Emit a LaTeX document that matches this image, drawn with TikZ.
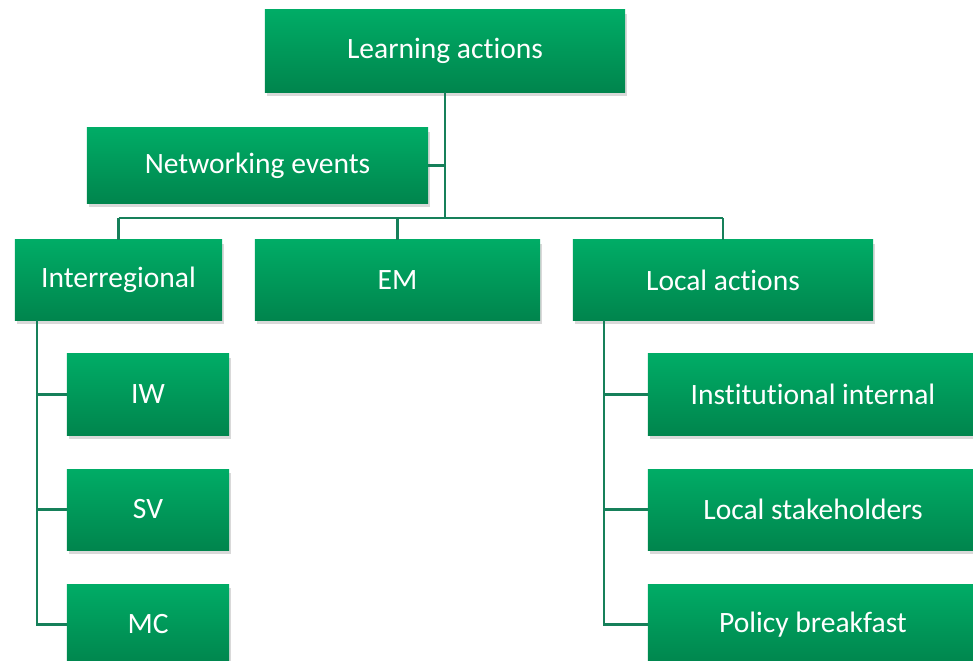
\documentclass[tikz,border=0pt]{standalone}
\usepackage{fontspec}
\setmainfont{Carlito}[Ligatures=NoCommon]
\usetikzlibrary{shadows}

\definecolor{boxtop}{HTML}{00AC66}
\definecolor{boxbottom}{HTML}{00854D}
\definecolor{linkgreen}{HTML}{16805A}

\begin{document}
\begin{tikzpicture}
    [x=0.025cm, y=-0.025cm,
     every node/.style={rectangle, inner sep=0pt, text=white,
       top color=boxtop, bottom color=boxbottom,
       drop shadow={shadow xshift=1.5pt, shadow yshift=-3pt, opacity=0.3},
       font=\fontsize{21}{25}\selectfont, minimum height=2.025cm},
     link/.style={draw=linkgreen, line width=1.6pt}]
  \useasboundingbox (0,0) rectangle (973,660);

  % top of the tree
  \node[minimum width=9cm, minimum height=2.05cm] (LA) at (445,51) {Learning actions};
  \node[minimum width=8.525cm, minimum height=1.875cm] (NE) at (257.5,165.5) {Networking events};

  % second row
  \node[minimum width=5.175cm, minimum height=2cm] (IR) at (118.5,280) {Interregional};
  \node[minimum width=7.125cm, minimum height=2cm] (EM) at (397.5,280) {EM};
  \node[minimum width=7.5cm, minimum height=2cm] (LC) at (723,280) {Local actions};

  % left column
  \node[minimum width=4.05cm] (IW) at (148,394.5) {IW};
  \node[minimum width=4.05cm] (SV) at (148,509.5) {SV};
  \node[minimum width=4.05cm] (MC) at (148,624.5) {MC};

  % right column
  \node[minimum width=8.25cm] (II) at (813,394.5) {Institutional internal};
  \node[minimum width=8.25cm] (LS) at (813,509.5) {Local stakeholders};
  \node[minimum width=8.25cm] (PB) at (813,624.5) {Policy breakfast};

  \coordinate (bus) at (445,218);
  \coordinate (left) at (37,320);
  \coordinate (right) at (604,320);

  \draw[link] (LA.south) -- (bus);
  \draw[link] (NE.east) -- (NE.east -| bus);
  \draw[link] (bus -| IR.north) -- (bus -| LC.north);
  \draw[link] (IR.north) -- (IR.north |- bus);
  \draw[link] (EM.north) -- (EM.north |- bus);
  \draw[link] (LC.north) -- (LC.north |- bus);

  \draw[link] (left) |- (IW.west);
  \draw[link] (left) |- (SV.west);
  \draw[link] (left) |- (MC.west);

  \draw[link] (right) |- (II.west);
  \draw[link] (right) |- (LS.west);
  \draw[link] (right) |- (PB.west);
\end{tikzpicture}
\end{document}
